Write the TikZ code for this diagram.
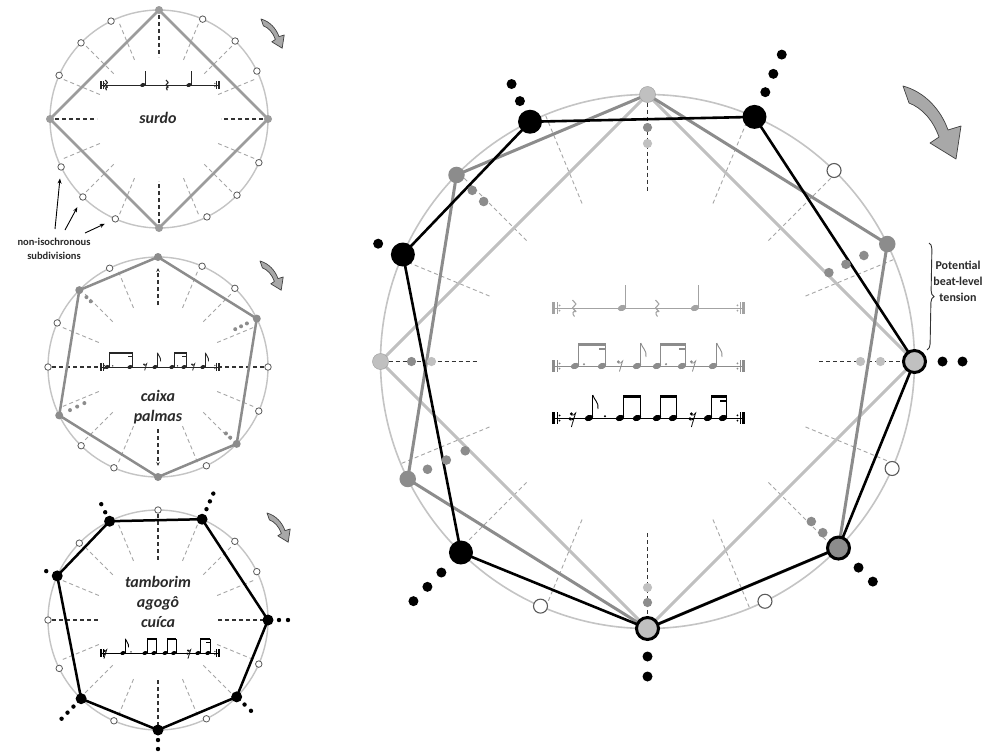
\documentclass[tikz,border=0pt]{standalone}
\usepackage{fontspec}
\setmainfont{Carlito}
\usetikzlibrary{arrows.meta,decorations.pathreplacing}
\definecolor{cring}{HTML}{C4C4C4}
\definecolor{clight}{HTML}{C0C0C0}
\definecolor{cmid}{HTML}{8C8C8C}
\definecolor{csq}{HTML}{9C9C9C}
\definecolor{cdash}{HTML}{A6A6A6}
\definecolor{cwhite}{HTML}{5A5A5A}
\definecolor{ctext}{HTML}{2A2A2A}
\definecolor{carrow}{HTML}{A8A8A8}
% ---- music macros (local coordinates, origin = start of staff line)
\newcommand\MStaff{%
  \draw[line width=0.7pt] (0,0) -- (193,0);
  \fill (0,-6) rectangle (2.6,6);
  \draw[line width=0.6pt] (4.8,-6) -- (4.8,6);
  \fill (7.6,-2.6) circle (1pt) (7.6,2.6) circle (1pt);
  \fill (190.4,-6) rectangle (193,6);
  \draw[line width=0.6pt] (188.2,-6) -- (188.2,6);
  \fill (185.4,-2.6) circle (1pt) (185.4,2.6) circle (1pt);}
\newcommand\MHead[1]{\fill[rotate around={20:(#1,0)}] (#1,0) ellipse (4.3pt and 3pt);}
\newcommand\MNote[1]{\MHead{#1}\draw[line width=0.8pt] (#1+3.8,-0.8) -- (#1+3.8,-23);}
\newcommand\MFlag[1]{\MNote{#1}\draw[line width=0.9pt] (#1+3.8,-23) .. controls (#1+5,-18) and (#1+10,-16) .. (#1+9,-9);}
\newcommand\MBeam[2]{\MNote{#1}\MNote{#2}\fill (#1+3.4,-23.5) rectangle (#2+4.2,-20.5);}
\newcommand\MBeamS[2]{\MBeam{#1}{#2}\fill (#2-3,-18.5) rectangle (#2+4.2,-15.8);}
\newcommand\MDot[1]{\fill (#1,-1.8) circle (1.2pt);}
\newcommand\MRestE[1]{\fill (#1-1.6,-4.2) circle (1.6pt);\draw[line width=0.8pt] (#1-1.6,-3) .. controls (#1,-2.4) and (#1+1.6,-3.2) .. (#1+2.6,-5) -- (#1-0.6,5.5);}
\newcommand\MRestS[1]{\MRestE{#1}\fill (#1-3,0.8) circle (1.6pt);\draw[line width=0.8pt] (#1-3,2) .. controls (#1-1.5,2.4) and (#1,1.6) .. (#1+1,0);\draw[line width=0.8pt] (#1-0.6,5.5) -- (#1-1.6,9);}
\newcommand\MRestQ[1]{\draw[line width=1.1pt,line join=round] (#1-1.5,-8) -- (#1+2,-4) -- (#1-1.5,0) -- (#1+2,3.5) .. controls (#1-1.5,2.5) and (#1-2,6) .. (#1+0.5,8.5);}
\tikzset{curvarrow/.pic={
  \filldraw[fill=carrow, draw=black!75, line width=0.7pt, line join=round]
    (0,0) .. controls (22,6) and (38,24) .. (45,44) -- (58,40) -- (53,73) -- (27,57) -- (36,51)
    .. controls (30,34) and (19,22) .. (6,17) -- cycle;}}
\begin{document}
\begin{tikzpicture}[x=1pt,y=-1pt,
  ringc/.style={draw=cring, line width=1.4pt},
  isodash/.style={draw=cdash, dash pattern=on 4pt off 3pt, line width=0.9pt},
  beatdash/.style={draw=black!80, dash pattern=on 4pt off 3pt, line width=1.1pt},
  wsm/.style={circle, draw=cwhite, fill=white, line width=0.8pt, inner sep=0pt, minimum size=6.5pt},
  wbg/.style={circle, draw=cwhite, fill=white, line width=1.1pt, inner sep=0pt, minimum size=14pt},
  gsm/.style={circle, fill=#1, inner sep=0pt, minimum size=8pt},
  bsm/.style={circle, fill=black, inner sep=0pt, minimum size=11pt},
  lbg/.style={circle, fill=clight, draw=clight!85!black, line width=0.5pt, inner sep=0pt, minimum size=16pt},
  gbg/.style={circle, fill=cmid, inner sep=0pt, minimum size=16.5pt},
  bbg/.style={circle, fill=black, inner sep=0pt, minimum size=24pt},
  rbg/.style={circle, draw=black, line width=3pt, fill=#1, inner sep=0pt, minimum size=22pt},
  lblbig/.style={font=\fontsize{16}{20}\selectfont\bfseries\itshape, text=ctext, align=center, inner sep=0pt},
  lblside/.style={font=\fontsize{12}{16}\selectfont\bfseries, text=ctext, align=center, inner sep=0pt},
  lblsmall/.style={font=\fontsize{10.5}{14}\selectfont\bfseries, text=ctext, align=center, inner sep=0pt},
  pointer/.style={-{Stealth[length=5pt,width=4pt]}, line width=0.9pt, shorten >=8pt}
]
\useasboundingbox (0,0) rectangle (991,753);
\fill[white] (0,0) rectangle (991,753);
\def\ANG{0/-90,1/-66.375,2/-45.675,3/-26.1,4/0,5/23.625,6/44.325,7/63.9,8/90,9/113.625,10/134.325,11/153.9,12/180,13/203.625,14/224.325,15/243.9}
\def\ISO{-67.5,-45,-22.5,22.5,45,67.5,112.5,135,157.5,202.5,225,247.5}

% ================= circle 1 : surdo
\foreach \p/\a in \ANG {\coordinate (A\p) at ([shift={(159,119)}]\a:109);}
\draw[ringc] (159,119) circle (109pt);
\foreach \b in \ISO {\draw[isodash] ([shift={(159,119)}]\b:103) -- ([shift={(159,119)}]\b:62);}
\foreach \b in {-90,0,90,180} {\draw[beatdash] ([shift={(159,119)}]\b:104) -- ([shift={(159,119)}]\b:62);}
\draw[csq, line width=2.5pt, line join=round] (A0) -- (A4) -- (A8) -- (A12) -- cycle;
\begin{scope}[shift={(100,85)}, scale=0.62, color=black!85]
  \MStaff \MRestQ{10} \MNote{69} \MRestQ{108} \MNote{143.5}
\end{scope}
\foreach \p in {0,4,8,12} {\node[gsm=csq] (nA\p) at (A\p) {};}
\foreach \p in {1,2,3,5,6,7,9,10,11,13,14,15} {\node[wsm] (nA\p) at (A\p) {};}
\node[lblbig] (tSurdo) at (158,118) {surdo};
\pic[scale=0.4] at (261,19) {curvarrow};
\node[lblsmall] (tNon) at (54,249) {non-isochronous\\subdivisions};
\coordinate (t1) at (55,229);
\coordinate (t2) at (65,230);
\coordinate (t3) at (85,233);
\draw[pointer] (t1) -- (nA11);
\draw[pointer] (t2) -- (nA10);
\draw[pointer] (t3) -- (nA9);

% ================= circle 2 : caixa / palmas
\foreach \p/\a in \ANG {\coordinate (B\p) at ([shift={(158,367)}]\a:110);}
\draw[ringc] (158,367) circle (110pt);
\foreach \b in \ISO {\draw[isodash] ([shift={(158,367)}]\b:103) -- ([shift={(158,367)}]\b:62);}
\foreach \b in {0,180} {\draw[beatdash] ([shift={(158,367)}]\b:106) -- ([shift={(158,367)}]\b:60);}
\foreach \b in {-90,90} {\draw[beatdash, -{Stealth[length=4pt,width=3.5pt]}] ([shift={(158,367)}]\b:62) -- ([shift={(158,367)}]\b:99);}
\draw[cmid, line width=2.5pt, line join=round] (B0) -- (B3) -- (B6) -- (B8) -- (B11) -- (B14) -- cycle;
\foreach \r in {99,92.5,86} {\fill[cmid] ([shift={(158,367)}]-26.1:\r) circle (2pt);}
\foreach \r in {100,94} {\fill[cmid] ([shift={(158,367)}]224.325:\r) circle (2pt);}
\foreach \r in {98,90,82} {\fill[cmid] ([shift={(158,367)}]153.9:\r) circle (2pt);}
\foreach \r in {101,95} {\fill[cmid] ([shift={(158,367)}]44.325:\r) circle (2pt);}
\begin{scope}[shift={(100,367)}, scale=0.62, color=black!85]
  \MStaff \MBeamS{11.3}{48.4}\MDot{20.5} \MRestE{72.6} \MFlag{88.7}
  \MBeamS{116}{135.5}\MDot{125} \MRestE{150} \MFlag{166}
\end{scope}
\foreach \p in {0,3,6,8,11,14} {\node[gsm=cmid] (nB\p) at (B\p) {};}
\foreach \p in {1,2,4,5,7,9,10,12,13,15} {\node[wsm] (nB\p) at (B\p) {};}
\node[lblbig] (tCaixa) at (158,407) {caixa\\palmas};
\pic[scale=0.4] at (260,261) {curvarrow};

% ================= circle 3 : tamborim / agogo / cuica
\foreach \p/\a in \ANG {\coordinate (C\p) at ([shift={(158,620)}]\a:110);}
\draw[ringc] (158,620) circle (110pt);
\foreach \b in \ISO {\draw[isodash] ([shift={(158,620)}]\b:103) -- ([shift={(158,620)}]\b:62);}
\foreach \b in {-90,0,90,180} {\draw[beatdash] ([shift={(158,620)}]\b:106) -- ([shift={(158,620)}]\b:60);}
\draw[black, line width=2.5pt, line join=round] (C1) -- (C4) -- (C6) -- (C8) -- (C10) -- (C13) -- (C15) -- cycle;
\foreach \a/\rr in {-66.375/{121,129.5,138}, 243.9/{120,129}, 203.625/{122}, 0/{121,130}, 44.325/{121,130}, 90/{120,129}, 134.325/{121,129.5,138}}
  {\foreach \r in \rr {\fill ([shift={(158,620)}]\a:\r) circle (2.2pt);}}
\begin{scope}[shift={(100,653)}, scale=0.62, color=black]
  \MStaff \MRestS{8} \MFlag{37}\MDot{50} \MBeam{72.6}{87} \MBeam{105}{119} \MRestS{143.5} \MBeamS{158}{174}
\end{scope}
\foreach \p in {1,4,6,8,10,13,15} {\node[bsm] (nC\p) at (C\p) {};}
\foreach \p in {0,2,3,5,7,9,11,12,14} {\node[wsm] (nC\p) at (C\p) {};}
\node[lblbig] (tTamb) at (158,602) {tamborim\\agogô\\cuíca};
\pic[scale=0.4] at (267,513) {curvarrow};

% ================= big circle
\foreach \p/\a in \ANG {\coordinate (D\p) at ([shift={(647.5,361.5)}]\a:267);}
\draw[cring, line width=1.6pt] (647.5,361.5) circle (267pt);
\foreach \b in \ISO {\draw[isodash] ([shift={(647.5,361.5)}]\b:266) -- ([shift={(647.5,361.5)}]\b:170);}
\foreach \b in {-90,0,90,180} {\draw[beatdash] ([shift={(647.5,361.5)}]\b:266) -- ([shift={(647.5,361.5)}]\b:170);}
\draw[clight, line width=3pt, line join=round] (D0) -- (D4) -- (D8) -- (D12) -- cycle;
\draw[cmid, line width=3pt, line join=round] (D0) -- (D3) -- (D6) -- (D8) -- (D11) -- (D14) -- cycle;
\draw[black, line width=2.6pt, line join=round] (D1) -- (D4) -- (D6) -- (D8) -- (D10) -- (D13) -- (D15) -- cycle;
\begin{scope}[shift={(552,308)}, color=clight!85!black]
  \MStaff \MRestQ{22} \MNote{70} \MRestQ{105} \MNote{143}
\end{scope}
\begin{scope}[shift={(552,366)}, color=cmid]
  \MStaff \MBeamS{23}{50}\MDot{32} \MRestE{68} \MFlag{85} \MBeamS{105}{130}\MDot{114} \MRestE{141} \MFlag{161}
\end{scope}
\begin{scope}[shift={(552,418)}, color=black]
  \MStaff \MRestS{21} \MFlag{37}\MDot{53} \MBeam{68}{85} \MBeam{105}{121} \MRestS{141} \MBeamS{156}{171}
\end{scope}
% dots
\foreach \a/\rr in {-66.375/{294,314,335}, 243.9/{290,309}, 203.625/{294}, 0/{295,315}, 44.325/{295,315}, 90/{295,315}, 134.325/{295,315,335}}
  {\foreach \r in \rr {\fill ([shift={(647.5,361.5)}]\a:\r) circle (5pt);}}
\foreach \a/\rr in {-26.1/{241,221,202}, 224.325/{245,229}, 153.9/{245,224,203}, 44.325/{245,229}}
  {\foreach \r in \rr {\fill[cmid] ([shift={(647.5,361.5)}]\a:\r) circle (4.8pt);}}
\fill[cmid] ([shift={(647.5,361.5)}]-90:234) circle (4.6pt);
\fill[clight] ([shift={(647.5,361.5)}]-90:218) circle (4.6pt);
\fill[cmid] ([shift={(647.5,361.5)}]180:236) circle (4.6pt);
\fill[clight] ([shift={(647.5,361.5)}]180:216) circle (4.6pt);
\fill[cmid] ([shift={(647.5,361.5)}]90:241) circle (4.6pt);
\fill[clight] ([shift={(647.5,361.5)}]90:226) circle (4.6pt);
\fill[clight] ([shift={(647.5,361.5)}]0:233) circle (4.6pt);
\fill[clight] ([shift={(647.5,361.5)}]0:213) circle (4.6pt);
% nodes
\foreach \p in {0,12} {\node[lbg] (nD\p) at (D\p) {};}
\foreach \p in {3,11,14} {\node[gbg] (nD\p) at (D\p) {};}
\foreach \p in {1,10,13,15} {\node[bbg] (nD\p) at (D\p) {};}
\foreach \p in {4,8} {\node[rbg=clight] (nD\p) at (D\p) {};}
\node[rbg=cmid] (nD6) at (D6) {};
\foreach \p in {2,5,7,9} {\node[wbg] (nD\p) at (D\p) {};}
\pic at (903,86) {curvarrow};
% tension brace
\coordinate (brTop) at (929,243);
\coordinate (brBot) at (927,350);
\draw[black!80, line width=0.9pt, decorate, decoration={brace, amplitude=6pt}] (brTop) -- (brBot);
\node[lblside] (tTension) at (958,281) {Potential\\beat-level\\tension};
\end{tikzpicture}
\end{document}
